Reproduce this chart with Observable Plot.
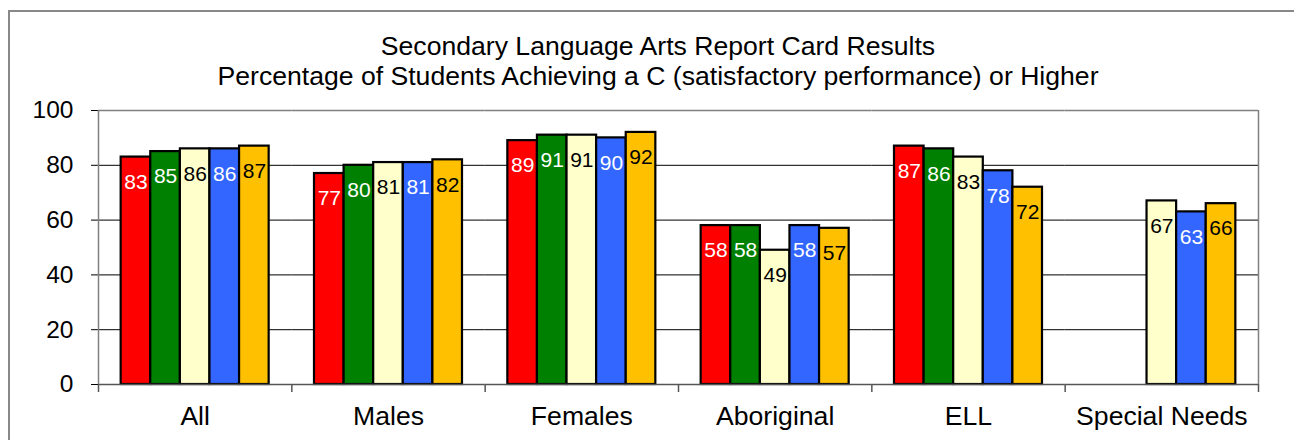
<!DOCTYPE html>
<html>
<head>
<meta charset="utf-8">
<script src="https://cdn.jsdelivr.net/npm/d3@7"></script>
<script src="https://cdn.jsdelivr.net/npm/@observablehq/plot@0.6"></script>
<style>
  html, body { margin: 0; padding: 0; background: #fff; overflow: hidden; width: 1294px; height: 440px; }
  body { position: relative; font-family: "Liberation Sans", Arial, sans-serif; }
  #frame { position: absolute; left: 8px; top: 10px; width: 1320px; height: 480px; border-left: 2px solid #888; border-top: 2px solid #888; box-sizing: border-box; }
  #title { position: relative; width: 1316px; padding-top: 31px; text-align: center; font-size: 26.6px; line-height: 30px; color: #000; height: 60px; }
  #chart { position: relative; }
  #chart svg [aria-label^="y-axis"] { font-size: 24.5px; }
  #chart svg [aria-label^="fx-axis"] { font-size: 26.6px; }
</style>
</head>
<body>
<div id="frame"></div>
<div id="title">
  <div>Secondary Language Arts Report Card Results</div>
  <div>Percentage of Students Achieving a C (satisfactory performance) or Higher</div>
</div>
<div id="chart"></div>
<script>
// ---- Data ----
const categories = ["All", "Males", "Females", "Aboriginal", "ELL", "Special Needs"];
const seriesNames = ["Series 1", "Series 2", "Series 3", "Series 4", "Series 5"];
const series1 = [83, 77, 89, 58, 87, null];
const series2 = [85, 80, 91, 58, 86, null];
const series3 = [86, 81, 91, 49, 83, 67];
const series4 = [86, 81, 90, 58, 78, 63];
const series5 = [87, 82, 92, 57, 72, 66];
const yTicks = [0, 20, 40, 60, 80, 100];

// ---- Styles ----
const barColors = ["#FF0000", "#008000", "#FFFFCC", "#3366FF", "#FFC000"];
const labelColors = ["#FFFFFF", "#FFFFFF", "#000000", "#FFFFFF", "#000000"];

const allSeries = [series1, series2, series3, series4, series5];
const rows = [];
allSeries.forEach((vals, j) => {
  vals.forEach((v, i) => {
    if (v != null) rows.push({cat: categories[i], series: seriesNames[j], value: v, j});
  });
});

const W = 1294, H = 349;
const ML = 98, MR = 36, MT = 19, MB = 56;
const groupShare = 148 / 193.33;            // fraction of a category occupied by bars
const n = seriesNames.length;
const stepF = (W - ML - MR) / categories.length;
const stepX = stepF * groupShare / n;
const po = (stepF - stepX * n) / 2 / stepX;  // outer padding of x band
const edgeOff = (po + 0.5) * stepX;          // from first bar centre to category edge
const tickLen = -8 / ((H - MT - MB) / 100);  // 8px below the axis, in data units

const plot = Plot.plot({
  width: W,
  height: H,
  marginLeft: ML,
  marginRight: MR,
  marginTop: MT,
  marginBottom: MB,
  style: {fontFamily: "'Liberation Sans', Arial, sans-serif", fontSize: "21px", background: "transparent", color: "#000"},
  color: {type: "identity"},
  fx: {domain: categories, padding: 0, round: false, axis: "bottom", label: null, tickSize: 0, tickPadding: 22},
  x: {domain: seriesNames, paddingInner: 0, paddingOuter: po, round: false, axis: null},
  y: {domain: [0, 100], ticks: yTicks, tickSize: 7, tickPadding: 18, label: null},
  marks: [
    Plot.ruleY(yTicks.filter(t => t > 0 && t < 100), {stroke: "#000", strokeWidth: 1}),
    Plot.ruleY([100], {stroke: "#808080", strokeWidth: 1.5}),
    Plot.barY(rows, {fx: "cat", x: "series", y: "value", fill: d => barColors[d.j], stroke: "#000", strokeWidth: 2.2}),
    Plot.ruleY([0], {stroke: "#555", strokeWidth: 1.5}),
    // category boundary ticks
    Plot.ruleX(categories, {fx: d => d, x: () => seriesNames[0], dx: -edgeOff, y1: () => 0, y2: () => tickLen, stroke: "#555", strokeWidth: 1.5}),
    Plot.ruleX([categories[categories.length - 1]], {fx: d => d, x: () => seriesNames[n - 1], dx: edgeOff, y1: () => 0, y2: () => tickLen, stroke: "#555", strokeWidth: 1.5}),
    // left axis line and right plot border
    Plot.ruleX([categories[0]], {fx: d => d, x: () => seriesNames[0], dx: -edgeOff, y1: () => 100, y2: () => 0, stroke: "#808080", strokeWidth: 1.5}),
    Plot.ruleX([categories[categories.length - 1]], {fx: d => d, x: () => seriesNames[n - 1], dx: edgeOff, y1: () => 100, y2: () => 0, stroke: "#808080", strokeWidth: 1.5}),
    Plot.text(rows, {fx: "cat", x: "series", y: "value", text: d => String(d.value), fill: d => labelColors[d.j], dy: 25, fontSize: 21})
  ]
});
document.getElementById("chart").appendChild(plot);
</script>
</body>
</html>
